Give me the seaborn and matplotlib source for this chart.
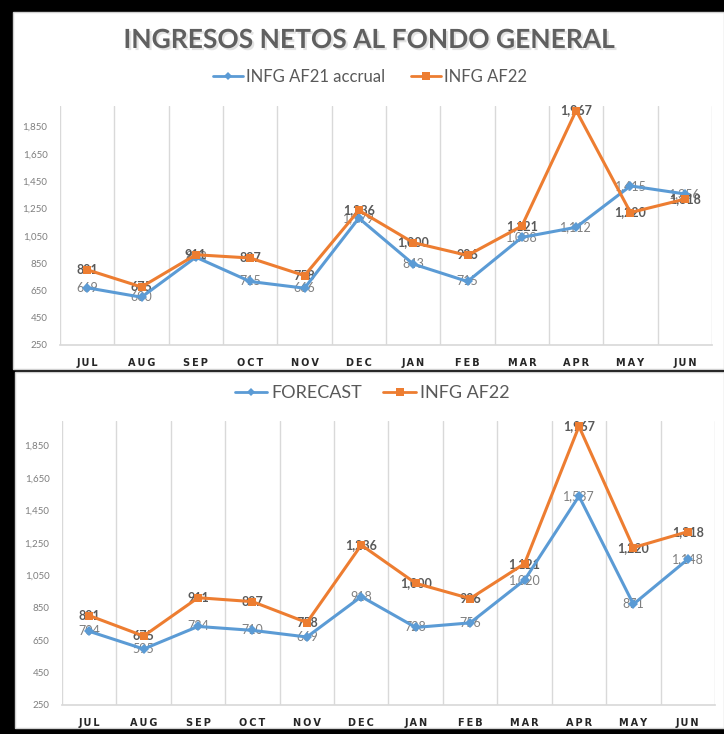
import numpy as np
import pandas as pd
import seaborn as sns
import matplotlib
matplotlib.use("Agg")
import matplotlib.pyplot as plt
from matplotlib.patches import Rectangle
from matplotlib.lines import Line2D
import matplotlib.patheffects as pe

# ---------------- data ----------------
months = ["JUL", "AUG", "SEP", "OCT", "NOV", "DEC", "JAN", "FEB", "MAR", "APR", "MAY", "JUN"]
infg_af21_accrual = [669, 600, 893, 715, 666, 1179, 843, 715, 1038, 1112, 1415, 1356]
infg_af22 = [801, 675, 911, 887, 758, 1236, 1000, 906, 1121, 1967, 1220, 1318]
forecast = [704, 595, 734, 710, 669, 918, 728, 756, 1020, 1537, 871, 1148]
yticks = [250, 450, 650, 850, 1050, 1250, 1450, 1650, 1850]

title = "INGRESOS NETOS AL FONDO GENERAL"
blue = "#5B9BD5"
orange = "#ED7D31"
txt_gray = "#595959"

sns.set_theme(style="white")
plt.rcParams["font.family"] = ["Lato", "DejaVu Sans"]

W, H = 724, 734
fig = plt.figure(figsize=(W / 100, H / 100), dpi=100)
fig.patch.set_facecolor("black")


def fbox(x0, y0, x1, y1):
    return [x0 / W, 1 - y1 / H, (x1 - x0) / W, (y1 - y0) / H]


# white panels
for (x0, y0, x1, y1) in [(13, 12, 724, 369), (15, 372, 724, 728)]:
    b = fbox(x0, y0, x1, y1)
    fig.patches.append(Rectangle((b[0], b[1]), b[2], b[3], transform=fig.transFigure,
                                 facecolor="white", edgecolor="#D0D0D0", lw=1.0, zorder=-10))

shadow = [pe.withSimplePatchShadow(offset=(1.5, -1.5), shadow_rgbFace="#b0b0b0", alpha=0.35)]

fig.text(369 / W, 1 - 40 / H, title, ha="center", va="center", fontsize=19,
         fontweight="bold", color="#606060", path_effects=shadow)


def draw_panel(box, s1, s2, label_fs):
    ax = fig.add_axes(fbox(*box))
    ax.set_zorder(2)
    ax.set_facecolor("none")
    x = np.arange(len(months))
    df1 = pd.DataFrame({"x": x, "v": s1})
    df2 = pd.DataFrame({"x": x, "v": s2})
    sns.lineplot(data=df1, x="x", y="v", ax=ax, color=blue, lw=2.2, marker="D",
                 markersize=5, markeredgewidth=0, zorder=4)
    sns.lineplot(data=df2, x="x", y="v", ax=ax, color=orange, lw=2.2, marker="s",
                 markersize=6, markeredgewidth=0, zorder=5)
    ax.set_xlim(-0.5, len(months) - 0.5)
    ax.set_ylim(250, 2000)
    ax.set_yticks(yticks)
    ax.set_yticklabels([f"{v:,}" for v in yticks], fontsize=7, color="#7F7F7F")
    ax.set_xticks(x)
    ax.set_xticklabels(["\u2009".join(m) for m in months], fontsize=7, fontweight="bold",
                       color="#262626", family="DejaVu Sans")
    ax.tick_params(axis="both", length=0, pad=9)
    ax.tick_params(axis="y", pad=9)
    for xb in np.arange(-0.5, len(months), 1.0):
        ax.axvline(xb, color="#D9D9D9", lw=1.0, zorder=1)
    for s in ["top", "right", "left"]:
        ax.spines[s].set_visible(False)
    ax.spines["bottom"].set_color("#D9D9D9")
    ax.set_xlabel("")
    ax.set_ylabel("")
    ax.grid(False)
    for i, v in enumerate(s1):
        ax.text(i, v, f"{v:,}", ha="center", va="center", fontsize=label_fs,
                color="#7F7F7F", zorder=3)
    for i, v in enumerate(s2):
        ax.text(i, v, f"{v:,}", ha="center", va="center", fontsize=label_fs,
                color=txt_gray, fontweight="bold", zorder=3)
    return ax


ax1 = draw_panel((60, 106, 712, 345), infg_af21_accrual, infg_af22, 9)
ax2 = draw_panel((62, 421, 715, 705), forecast, infg_af22, 9)

h_blue = Line2D([], [], color=blue, lw=2, marker="D", markersize=4.5, markeredgewidth=0)
h_orange = Line2D([], [], color=orange, lw=2, marker="s", markersize=6, markeredgewidth=0)

fig.legend([h_blue, h_orange], ["INFG AF21 accrual", "INFG AF22"], loc="center",
           bbox_to_anchor=(370 / W, 1 - 77 / H), ncol=2, frameon=False, fontsize=12,
           labelcolor=txt_gray, handlelength=1.8, handletextpad=0.2, columnspacing=1.5)
fig.legend([h_blue, h_orange], ["FORECAST", "INFG AF22"], loc="center",
           bbox_to_anchor=(372 / W, 1 - 393 / H), ncol=2, frameon=False, fontsize=13,
           labelcolor=txt_gray, handlelength=1.8, handletextpad=0.2, columnspacing=1.2)

fig.savefig("out.png", dpi=100, facecolor=fig.get_facecolor())
